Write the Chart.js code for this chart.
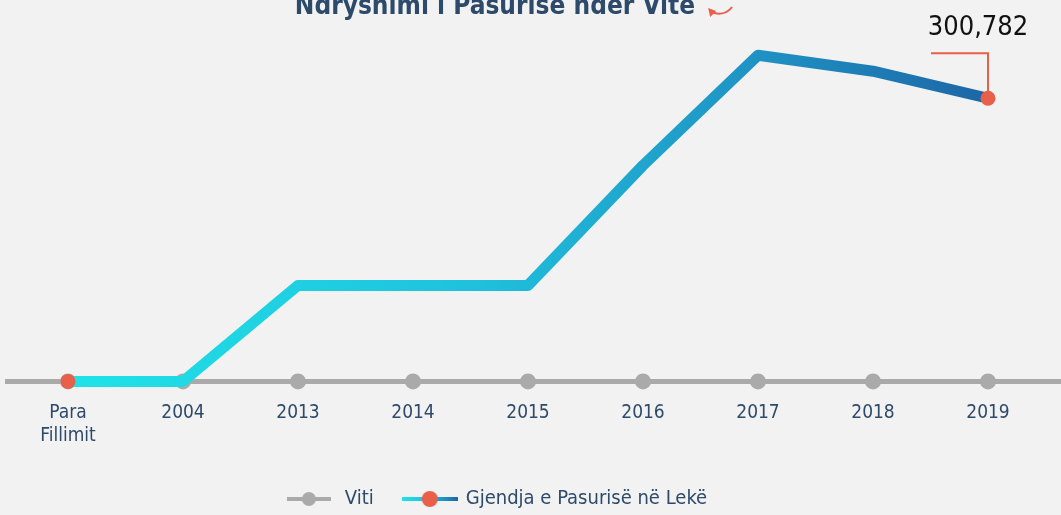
<!DOCTYPE html>
<html>
<head>
<meta charset="utf-8">
<script src="https://cdn.jsdelivr.net/npm/chart.js@4.4.1/dist/chart.umd.min.js"></script>
<style>
  html, body { margin: 0; padding: 0; background: #f2f2f2; }
  #wrap { width: 1061px; height: 515px; }
</style>
</head>
<body>
<div id="wrap"><canvas id="graficoPasuria"></canvas></div>
<script>
// Kategorite e boshtit X
const vitet = [['Para', 'Fillimit'], '2004', '2013', '2014', '2015', '2016', '2017', '2018', '2019'];
// Seria gri "Viti" (vija e boshtit)
const vlerat_viti = [0, 0, 0, 0, 0, 0, 0, 0, 0];
// Gjendja e pasurise ne leke
const vlerat_pasuria = [0, 0, 102000, 102000, 102000, 229500, 346500, 329500, 300782];
const etiketa_fundit = '300,782';

const fonti = "'Liberation Sans Narrow', 'DejaVu Sans Condensed', sans-serif";
const ngjyraTekst = '#2e4a6b';
const portokalli = '#e8604a';
const gri = '#aaaaaa';
const madhesiaTitullit = 26;

function gradienti(ctx, x0, x1) {
  const g = ctx.createLinearGradient(x0, 0, x1, 0);
  g.addColorStop(0, '#1fe3e8');
  g.addColorStop(0.45, '#1fc0dc');
  g.addColorStop(0.75, '#1f92c4');
  g.addColorStop(1, '#1d66a6');
  return g;
}

// simbolet e legjendes: vije me pike
function simbol(gjeresia, linja, pika, rrezja) {
  const c = document.createElement('canvas');
  c.width = gjeresia; c.height = 20;
  const g = c.getContext('2d');
  g.lineWidth = 4;
  g.strokeStyle = linja === 'grad' ? gradienti(g, 0, gjeresia) : linja;
  g.beginPath(); g.moveTo(0, 10); g.lineTo(gjeresia, 10); g.stroke();
  g.fillStyle = pika;
  g.beginPath(); g.arc(gjeresia / 2, 10, rrezja, 0, Math.PI * 2); g.fill();
  return c;
}
const simbolet = [simbol(44, gri, gri, 7), simbol(56, 'grad', portokalli, 8)];

// vija gri qe shtrihet ne te gjithe gjeresine
const vijaBoshtit = {
  id: 'vijaBoshtit',
  beforeDatasetsDraw(chart) {
    const ctx = chart.ctx;
    const y = chart.scales.y.getPixelForValue(0);
    ctx.save();
    ctx.strokeStyle = gri;
    ctx.lineWidth = 5;
    ctx.beginPath(); ctx.moveTo(5, y); ctx.lineTo(chart.width, y); ctx.stroke();
    ctx.restore();
  }
};

// shenimi per vleren e fundit
const shenimi = {
  id: 'shenimi',
  afterDatasetsDraw(chart) {
    const meta = chart.getDatasetMeta(1);
    const p = meta.data[meta.data.length - 1];
    const ctx = chart.ctx;
    ctx.save();
    ctx.strokeStyle = portokalli;
    ctx.lineWidth = 2;
    ctx.beginPath();
    ctx.moveTo(p.x - 57, p.y - 45);
    ctx.lineTo(p.x, p.y - 45);
    ctx.lineTo(p.x, p.y - 6);
    ctx.stroke();
    ctx.fillStyle = portokalli;
    ctx.beginPath(); ctx.arc(p.x, p.y, 7.5, 0, Math.PI * 2); ctx.fill();
    ctx.fillStyle = '#111111';
    ctx.font = '27px ' + fonti;
    ctx.textAlign = 'center';
    ctx.textBaseline = 'middle';
    ctx.fillText(etiketa_fundit, p.x - 10, p.y - 70);
    ctx.restore();
  },
  afterDraw(chart) {
    // shigjeta e vogel pas titullit
    const t = chart.titleBlock;
    const ctx = chart.ctx;
    ctx.save();
    ctx.font = 'bold ' + madhesiaTitullit + 'px ' + fonti;
    const w = ctx.measureText(t.options.text).width;
    const x = (t.left + t.right) / 2 + w / 2 + 13;
    ctx.strokeStyle = portokalli;
    ctx.fillStyle = portokalli;
    ctx.lineWidth = 2;
    ctx.beginPath();
    ctx.moveTo(x + 24, 7);
    ctx.quadraticCurveTo(x + 16, 17, x + 3, 12);
    ctx.stroke();
    ctx.beginPath();
    ctx.moveTo(x, 8); ctx.lineTo(x + 8, 11); ctx.lineTo(x + 2, 17); ctx.closePath();
    ctx.fill();
    ctx.restore();
  }
};

// zhvendos titullin dhe legjenden pak majtas si ne origjinal
const zhvendosja = {
  id: 'zhvendosja',
  afterLayout(chart) {
    [chart.legend, chart.titleBlock].forEach(b => { b.left -= 33; b.right -= 33; });
  }
};

new Chart(document.getElementById('graficoPasuria').getContext('2d'), {
  type: 'line',
  data: {
    labels: vitet,
    datasets: [
      {
        label: 'Viti',
        data: vlerat_viti,
        borderColor: gri,
        borderWidth: 5,
        pointRadius: 8,
        pointBackgroundColor: gri,
        pointBorderWidth: 0,
        clip: false,
        order: 1
      },
      {
        label: 'Gjendja e Pasurisë në Lekë',
        data: vlerat_pasuria,
        borderColor: (ctx) => {
          const a = ctx.chart.chartArea;
          if (!a) return '#1fb0d6';
          return gradienti(ctx.chart.ctx, a.left, a.right);
        },
        borderWidth: 11,
        borderJoinStyle: 'round',
        borderCapStyle: 'round',
        pointRadius: [7.5, 0, 0, 0, 0, 0, 0, 0, 0],
        pointBackgroundColor: portokalli,
        pointBorderWidth: 0,
        clip: false,
        order: 0
      }
    ]
  },
  options: {
    responsive: true,
    maintainAspectRatio: false,
    animation: false,
    layout: { padding: { left: 68, right: 73, top: 0, bottom: -4 } },
    plugins: {
      tooltip: { enabled: false },
      title: {
        display: true,
        text: 'Ndryshimi i Pasurisë nder Vite',
        color: ngjyraTekst,
        font: { family: fonti, size: madhesiaTitullit, weight: 'bold' },
        padding: { top: -8, bottom: 16 }
      },
      legend: {
        position: 'bottom',
        labels: {
          usePointStyle: true,
          pointStyleWidth: 52,
          padding: 30,
          color: ngjyraTekst,
          font: { family: fonti, size: 20 },
          generateLabels: (chart) => chart.data.datasets.map((ds, i) => ({
            text: ds.label,
            pointStyle: simbolet[i],
            fontColor: ngjyraTekst,
            datasetIndex: i,
            hidden: false,
            lineWidth: 0,
            strokeStyle: 'transparent',
            fillStyle: 'transparent'
          }))
        }
      }
    },
    scales: {
      x: {
        grid: { display: false },
        border: { display: false },
        ticks: {
          color: ngjyraTekst,
          font: { family: fonti, size: 19 },
          padding: 12,
          autoSkip: false,
          maxRotation: 0
        }
      },
      y: { display: false, min: 0, max: 363500 }
    }
  },
  plugins: [vijaBoshtit, shenimi, zhvendosja]
});
</script>
</body>
</html>
